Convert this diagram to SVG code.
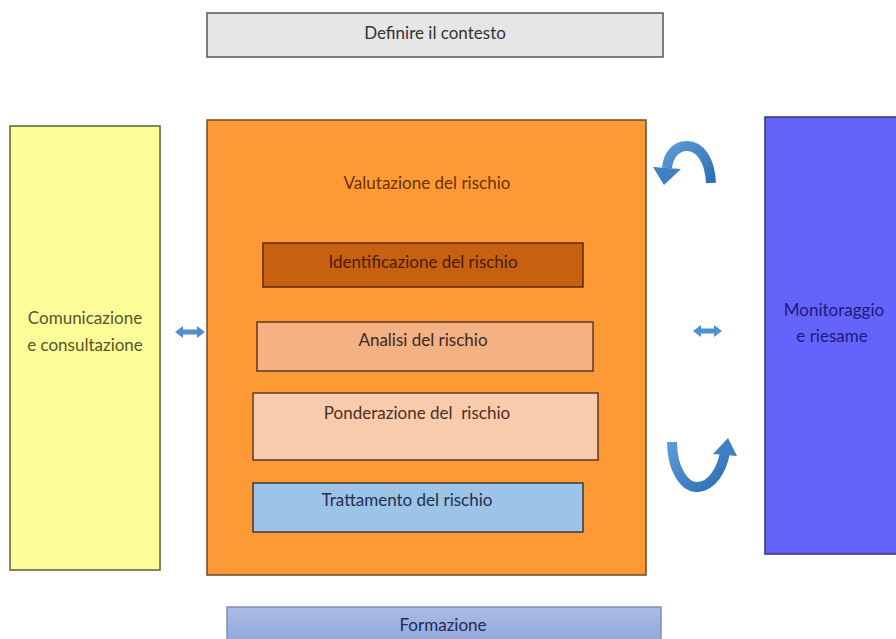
<svg xmlns="http://www.w3.org/2000/svg" width="896" height="639" viewBox="0 0 896 639">
<defs>
<linearGradient id="gForm" x1="0" y1="0" x2="0" y2="1"><stop offset="0" stop-color="#a9bbe6"/><stop offset="1" stop-color="#8fa6da"/></linearGradient>
<linearGradient id="gArr" x1="0" y1="0" x2="1" y2="1"><stop offset="0" stop-color="#5b9bd8"/><stop offset="1" stop-color="#2f6db3"/></linearGradient>
</defs>
<style>
.t{font-family:Lato,"Open Sans","Liberation Sans",sans-serif;font-size:17px;text-anchor:middle}
.box{stroke-width:1.5}
.arc{fill:none;stroke:url(#gArr);stroke-width:10}
.dbl{fill:#4f8fd0}
</style>
<rect width="896" height="639" fill="#ffffff"/>
<g id="definire">
<rect class="box" x="207" y="13" width="456" height="44" fill="#e6e6e6" stroke="#555555"/>
<text class="t" x="435" y="39" fill="#333333">Definire il contesto</text>
</g>
<g id="comunicazione">
<rect class="box" x="10" y="126" width="150" height="444" fill="#fdfd9a" stroke="#5e5e3a"/>
<text class="t" x="85" y="324" fill="#55552a">Comunicazione</text>
<text class="t" x="85" y="351" fill="#55552a">e consultazione</text>
</g>
<g id="valutazione">
<rect class="box" x="207" y="120" width="439" height="455" fill="#fe9a36" stroke="#6b4a2a"/>
<text class="t" x="427" y="189" fill="#6b3100">Valutazione del rischio</text>
</g>
<g id="identificazione">
<rect class="box" x="263" y="243" width="320" height="44" fill="#c7600f" stroke="#5a2a08"/>
<text class="t" x="423" y="268" fill="#4a1c00">Identificazione del rischio</text>
</g>
<g id="analisi">
<rect class="box" x="257" y="322" width="336" height="49" fill="#f4b183" stroke="#5a3a28"/>
<text class="t" x="423" y="346" fill="#3a2a20">Analisi del rischio</text>
</g>
<g id="ponderazione">
<rect class="box" x="253" y="393" width="345" height="67" fill="#f8cbad" stroke="#5a3a28"/>
<text class="t" x="417" y="419" fill="#4a3020" xml:space="preserve">Ponderazione del  rischio</text>
</g>
<g id="trattamento">
<rect class="box" x="253" y="483" width="330" height="49" fill="#9dc3e6" stroke="#3a3a3a"/>
<text class="t" x="407" y="506" fill="#1f3050">Trattamento del rischio</text>
</g>
<g id="monitoraggio">
<rect class="box" x="765" y="117" width="140" height="437" fill="#6464fc" stroke="#333366"/>
<text class="t" x="834" y="316" fill="#1a1a78">Monitoraggio</text>
<text class="t" x="832" y="342" fill="#1a1a78">e riesame</text>
</g>
<g id="formazione">
<rect class="box" x="227" y="607" width="434" height="40" fill="url(#gForm)" stroke="#7f8fb8"/>
<text class="t" x="443" y="631" fill="#1f2a55">Formazione</text>
</g>
<g id="connectors">
<polygon class="dbl" points="175,332 183,326 183,329.5 197,329.5 197,326 205,332 197,338 197,334.5 183,334.5 183,338"/>
<polygon class="dbl" points="693,331 701,325 701,328.5 714,328.5 714,325 722,331 714,337 714,333.5 701,333.5 701,337"/>
<path class="arc" d="M 711 183 C 710 160 700 146 687 146 C 675 146 668 156 667 168"/>
<polygon fill="#3f7fc2" points="653,167 681,169 664,185"/>
<path class="arc" d="M 672 442 C 672 470 685 488 698 487 C 712 486 722 470 725 452"/>
<polygon fill="#3f7fc2" points="713,454 737,456 728,438"/>
</g>
</svg>
